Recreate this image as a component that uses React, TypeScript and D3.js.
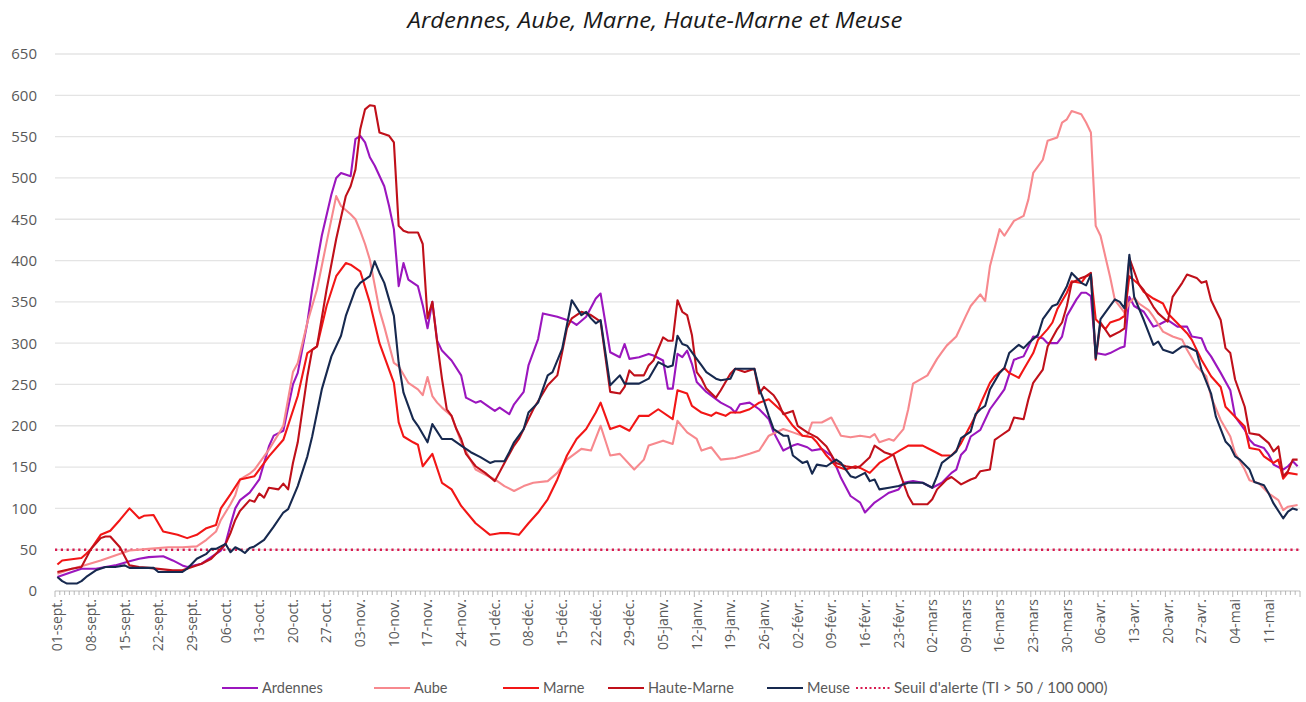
import React from 'react';
import * as d3 from 'd3';

const title = 'Ardennes, Aube, Marne, Haute-Marne et Meuse';
const nDays = 259;
const tickLabels = ['01-sept.','08-sept.','15-sept.','22-sept.','29-sept.','06-oct.','13-oct.','20-oct.','27-oct.','03-nov.','10-nov.','17-nov.','24-nov.','01-déc.','08-déc.','15-déc.','22-déc.','29-déc.','05-janv.','12-janv.','19-janv.','26-janv.','02-févr.','09-févr.','16-févr.','23-févr.','02-mars','09-mars','16-mars','23-mars','30-mars','06-avr.','13-avr.','20-avr.','27-avr.','04-mai','11-mai'];
const yTicks = [0,50,100,150,200,250,300,350,400,450,500,550,600,650];
const threshold = 50;

// [day index from 01-sept., value]
const ardennes = [[0,17],[3,23],[5,27],[8,27],[10,29],[12,31],[15,36],[17,39],[19,41],[22,42],[24,37],[26,31],[27,29],[30,33],[32,41],[34,49],[35,58],[36,80],[37,100],[38,110],[40,119],[42,135],[44,175],[45,188],[47,194],[49,250],[50,264],[52,325],[53,365],[55,430],[57,480],[58,500],[59,506],[61,502],[62,547],[63,551],[64,543],[65,525],[66,515],[68,490],[69,466],[70,438],[71,369],[72,397],[73,377],[75,369],[76,346],[77,318],[78,350],[79,303],[80,291],[82,279],[84,261],[85,234],[87,228],[88,230],[90,222],[91,218],[92,222],[94,214],[95,226],[97,241],[98,273],[100,305],[101,336],[104,332],[106,328],[107,326],[108,322],[110,332],[112,354],[113,360],[115,289],[117,283],[118,299],[119,281],[121,283],[123,287],[124,285],[126,279],[127,245],[128,245],[129,287],[130,283],[131,291],[132,275],[133,253],[135,241],[138,228],[140,222],[141,216],[142,226],[144,228],[146,220],[148,208],[149,192],[151,170],[153,176],[154,178],[156,174],[157,170],[159,172],[161,164],[162,151],[163,137],[165,115],[167,107],[168,95],[170,107],[172,115],[173,119],[175,123],[176,131],[178,133],[180,131],[182,125],[184,131],[186,143],[187,147],[188,165],[189,171],[190,187],[192,195],[194,220],[196,236],[197,244],[199,280],[201,284],[202,296],[203,308],[205,306],[206,300],[208,300],[209,308],[210,333],[212,353],[213,361],[214,361],[215,357],[216,288],[218,286],[219,288],[221,294],[222,296],[223,356],[224,345],[226,338],[228,320],[229,322],[231,328],[233,320],[235,320],[236,308],[238,306],[239,292],[240,284],[242,264],[244,243],[245,211],[247,195],[248,183],[249,177],[251,173],[252,165],[253,153],[255,147],[256,151],[257,157],[258,151]];
const aube = [[0,21],[3,27],[5,30],[9,37],[12,43],[15,49],[19,51],[23,53],[26,53],[29,54],[31,62],[33,72],[34,86],[36,105],[37,116],[38,135],[40,142],[41,147],[44,171],[46,190],[47,200],[49,265],[50,276],[52,325],[54,365],[56,422],[58,478],[59,466],[61,456],[62,450],[63,436],[64,420],[65,401],[67,340],[68,320],[70,276],[71,272],[73,252],[75,244],[76,237],[77,259],[78,236],[79,228],[80,222],[82,212],[84,180],[87,147],[89,141],[91,135],[93,127],[95,121],[97,127],[99,131],[102,133],[104,143],[106,159],[109,172],[111,170],[113,200],[115,164],[117,166],[120,147],[122,159],[123,176],[126,182],[128,178],[129,206],[131,192],[133,184],[134,170],[136,174],[138,159],[141,161],[144,166],[146,170],[148,188],[151,196],[153,192],[155,188],[156,188],[157,204],[159,204],[161,210],[163,188],[165,186],[167,188],[169,186],[170,190],[171,180],[173,184],[174,182],[176,196],[177,220],[178,251],[181,261],[183,281],[184,289],[185,297],[187,308],[189,333],[190,345],[192,359],[193,351],[194,393],[196,438],[197,430],[199,448],[201,454],[202,474],[203,506],[205,522],[206,545],[208,549],[209,567],[210,571],[211,581],[213,577],[214,567],[215,555],[216,442],[217,430],[218,405],[219,380],[220,352],[222,337],[223,349],[224,355],[225,348],[227,340],[228,332],[230,314],[232,308],[234,304],[235,292],[237,272],[239,260],[240,235],[242,207],[244,187],[245,167],[247,147],[248,134],[250,130],[252,118],[254,110],[255,98],[256,102],[258,104]];
const marne = [[0,32],[1,37],[5,40],[6,45],[7,51],[9,68],[11,73],[13,86],[15,100],[17,88],[18,91],[20,92],[22,72],[25,68],[27,64],[29,68],[31,76],[33,80],[34,100],[36,117],[38,135],[41,139],[44,163],[47,183],[50,236],[52,288],[54,296],[56,345],[58,381],[60,397],[61,395],[63,387],[65,349],[67,300],[70,252],[71,204],[72,187],[74,180],[75,177],[76,151],[78,166],[80,131],[82,123],[84,103],[87,82],[90,68],[92,70],[94,70],[96,68],[98,82],[100,95],[102,111],[104,135],[106,164],[108,184],[110,196],[112,216],[113,228],[115,196],[117,200],[119,194],[121,212],[123,212],[125,220],[128,208],[129,243],[131,239],[132,224],[134,216],[136,212],[137,216],[139,212],[140,216],[142,216],[144,220],[146,228],[148,232],[151,216],[153,200],[155,188],[157,186],[158,180],[160,164],[162,151],[164,147],[166,151],[167,149],[169,143],[171,155],[173,162],[174,166],[177,176],[180,176],[182,170],[184,164],[186,164],[187,170],[188,179],[191,212],[192,226],[194,252],[195,260],[197,270],[198,264],[200,258],[201,268],[203,288],[204,304],[206,317],[207,325],[208,341],[210,361],[211,375],[213,373],[214,381],[215,383],[216,329],[218,317],[219,325],[221,329],[222,333],[223,381],[225,371],[226,362],[228,354],[230,348],[231,336],[233,324],[235,312],[236,304],[238,280],[240,260],[242,247],[243,223],[245,211],[247,199],[248,173],[250,171],[251,163],[253,155],[254,159],[255,136],[256,143],[258,141]];
const hauteMarne = [[0,23],[3,27],[5,29],[7,51],[9,64],[10,66],[11,66],[13,53],[15,31],[17,29],[19,28],[24,25],[26,25],[28,29],[30,33],[32,39],[33,45],[35,57],[36,70],[37,86],[38,97],[40,110],[41,108],[42,118],[43,113],[44,125],[46,123],[47,130],[48,123],[49,155],[50,180],[52,260],[53,292],[54,296],[56,365],[58,426],[60,478],[61,490],[62,510],[63,559],[64,583],[65,588],[66,587],[67,555],[69,551],[70,543],[71,442],[72,436],[73,434],[75,434],[76,420],[77,330],[78,350],[79,301],[80,257],[81,220],[82,212],[83,196],[84,184],[85,166],[87,151],[89,143],[91,133],[93,155],[95,176],[96,184],[98,208],[99,220],[102,249],[104,261],[105,289],[106,318],[107,330],[109,338],[111,334],[113,326],[115,241],[117,239],[118,247],[119,267],[120,261],[122,261],[123,273],[124,279],[126,307],[127,303],[128,303],[129,352],[130,338],[131,334],[132,310],[133,265],[134,257],[135,245],[137,234],[138,243],[140,263],[141,269],[143,265],[145,269],[146,239],[147,247],[149,237],[150,228],[151,214],[153,218],[154,200],[156,192],[158,186],[160,175],[161,165],[162,155],[164,151],[166,149],[167,151],[169,162],[170,176],[172,168],[174,164],[175,147],[177,115],[178,105],[181,105],[182,111],[183,123],[185,135],[186,138],[188,129],[190,135],[191,137],[192,145],[194,147],[195,183],[196,187],[198,195],[199,210],[201,208],[202,232],[203,252],[205,268],[206,296],[208,317],[209,325],[210,345],[211,373],[213,379],[214,381],[215,385],[216,280],[217,325],[219,308],[221,314],[222,318],[223,403],[225,371],[226,364],[228,344],[229,336],[231,326],[232,356],[234,373],[235,383],[237,379],[238,373],[239,375],[240,352],[242,328],[243,294],[244,288],[245,256],[247,223],[248,191],[250,189],[252,179],[253,169],[254,175],[255,139],[256,145],[257,159],[258,159]];
const meuse = [[0,17],[1,12],[2,9],[4,9],[5,12],[6,17],[8,25],[10,29],[12,29],[14,31],[15,28],[20,28],[21,23],[26,23],[27,27],[29,39],[31,45],[32,51],[33,51],[35,57],[36,47],[37,53],[38,50],[39,46],[40,52],[41,54],[43,62],[45,78],[47,95],[48,99],[50,127],[52,163],[53,187],[55,244],[57,284],[59,309],[60,333],[62,365],[63,373],[65,381],[66,399],[67,385],[68,373],[70,333],[71,276],[72,240],[73,224],[74,208],[75,200],[77,180],[78,202],[80,184],[82,184],[84,176],[86,168],[88,162],[90,155],[91,157],[93,157],[94,168],[95,180],[97,196],[98,216],[100,228],[102,261],[103,265],[105,293],[106,322],[107,352],[109,334],[110,338],[111,330],[112,324],[113,328],[115,249],[117,261],[118,251],[121,251],[123,257],[124,267],[125,277],[127,271],[128,273],[129,309],[130,299],[131,297],[133,281],[134,273],[135,265],[137,257],[138,255],[140,257],[141,269],[143,269],[145,269],[146,245],[147,230],[148,212],[149,196],[151,188],[152,188],[153,164],[155,155],[156,157],[157,142],[158,153],[160,151],[162,159],[163,155],[165,139],[166,137],[168,143],[169,133],[170,135],[171,123],[173,125],[175,127],[177,131],[180,131],[182,125],[183,139],[184,155],[186,164],[187,169],[188,185],[190,193],[191,214],[192,220],[193,224],[194,244],[196,264],[197,270],[198,288],[200,298],[201,294],[202,300],[204,310],[205,329],[207,345],[208,347],[210,369],[211,385],[213,373],[214,370],[215,383],[216,282],[217,329],[219,345],[220,353],[221,350],[222,342],[223,407],[224,356],[226,328],[228,298],[229,302],[230,292],[232,288],[234,296],[235,296],[237,290],[238,268],[240,239],[241,211],[243,181],[244,175],[245,163],[246,159],[248,147],[249,132],[251,128],[252,118],[253,106],[255,88],[256,96],[257,100],[258,98]];

const seriesNames = ['Ardennes','Aube','Marne','Haute-Marne','Meuse'];
const seriesColors = ['#9B16BE','#F7898E','#F21616','#C0101A','#17294F'];
const seriesData = [ardennes, aube, marne, hauteMarne, meuse];
const thresholdLabel = "Seuil d'alerte (TI > 50 / 100 000)";
const thresholdColor = '#D81B50';

const W = 1306, H = 702;
const FONT = "'Open Sans', 'DejaVu Sans', sans-serif";
const LEG_FONT = "Lato, 'Open Sans', sans-serif";
const TXT = '#595959';

export default function App() {
  const x = d3.scaleLinear().domain([-0.5, nDays - 0.5]).range([55, 1300]);
  const y = d3.scaleLinear().domain([0, 650]).range([591, 54]);
  const line = d3.line<number[]>().x(d => x(d[0])).y(d => y(d[1]));
  const days = d3.range(nDays + 1);

  const legendItems = [
    { label: seriesNames[0], color: seriesColors[0], x: 222 },
    { label: seriesNames[1], color: seriesColors[1], x: 374 },
    { label: seriesNames[2], color: seriesColors[2], x: 503 },
    { label: seriesNames[3], color: seriesColors[3], x: 608 },
    { label: seriesNames[4], color: seriesColors[4], x: 767 },
  ];

  return (
    <svg width={W} height={H} style={{ position: 'absolute', left: 0, top: 0, background: '#fff' }}
      fontFamily={FONT}>
      <rect x={0} y={0} width={W} height={H} fill="#fff" />
      <text x={655} y={28} textAnchor="middle" fontSize={22.5} fontStyle="italic" fill="#1a1a1a"
        textLength={495} lengthAdjust="spacingAndGlyphs">{title}</text>
      {yTicks.map(t => (
        <g key={t}>
          {t > 0 && <line x1={55} x2={1300} y1={y(t)} y2={y(t)} stroke="#e4e4e4" strokeWidth={1.3} />}
          <text x={37} y={y(t)} dy="0.36em" textAnchor="end" fontSize={15} fill={TXT}>{t}</text>
        </g>
      ))}
      <line x1={55} x2={1300} y1={y(0)} y2={y(0)} stroke="#bfbfbf" strokeWidth={1} />
      {days.map(d => (
        <line key={d} x1={x(d - 0.5)} x2={x(d - 0.5)} y1={y(0)} y2={y(0) + (d % 7 === 0 ? 6 : 4)} stroke="#a6a6a6" strokeWidth={0.8} />
      ))}
      {tickLabels.map((lab, i) => {
        const px = x(i * 7);
        return (
          <text key={lab} transform={`translate(${px},599) rotate(-90)`} textAnchor="end" dy="0.35em" fontSize={14} fill={TXT}>{lab}</text>
        );
      })}
      <line x1={55} x2={1300} y1={y(threshold)} y2={y(threshold)} stroke={thresholdColor} strokeWidth={2.5} strokeDasharray="2.2 3.6" />
      {seriesData.map((s, i) => (
        <path key={seriesNames[i]} d={line(s as number[][]) || ''} fill="none" stroke={seriesColors[i]} strokeWidth={2.1} strokeLinejoin="round" />
      ))}
      <g fontFamily={LEG_FONT}>
        {legendItems.map(it => (
          <g key={it.label}>
            <line x1={it.x} x2={it.x + 36} y1={688} y2={688} stroke={it.color} strokeWidth={2.2} />
            <text x={it.x + 40} y={688} dy="0.35em" fontSize={14.5} fill={TXT}>{it.label}</text>
          </g>
        ))}
        <line x1={856} x2={890} y1={688} y2={688} stroke={thresholdColor} strokeWidth={2.2} strokeDasharray="2 2.5" />
        <text x={894} y={688} dy="0.35em" fontSize={15} fill={TXT}>{thresholdLabel}</text>
      </g>
    </svg>
  );
}
